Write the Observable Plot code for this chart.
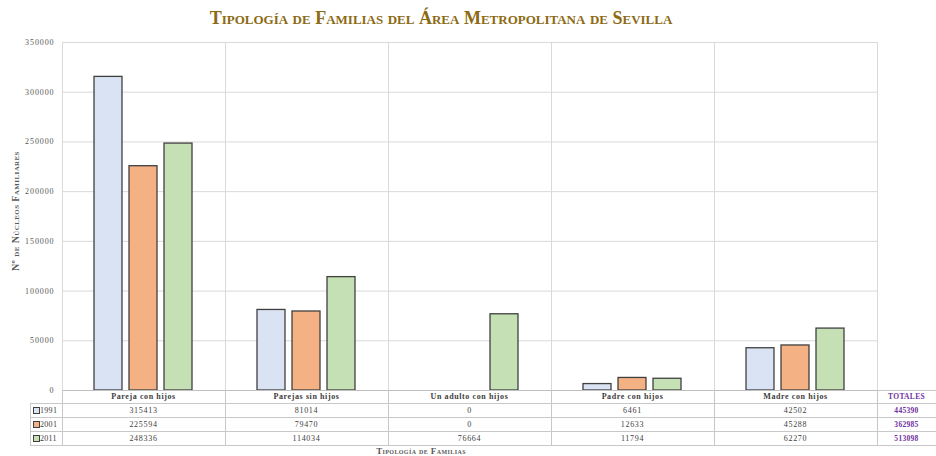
<!DOCTYPE html>
<html>
<head>
<meta charset="utf-8">
<script src="https://cdn.jsdelivr.net/npm/d3@7"></script>
<script src="https://cdn.jsdelivr.net/npm/@observablehq/plot@0.6"></script>
<style>
  html, body { margin: 0; padding: 0; background: #fff; }
  #wrap { position: relative; width: 936px; height: 456px; overflow: hidden; font-family: "Liberation Serif", "Times New Roman", serif; }
  #wrap svg { position: absolute; left: 0; top: 0; }
  #wrap svg g[aria-label="y-axis tick label"] text { letter-spacing: 0.9px; }
  .abs { position: absolute; white-space: nowrap; line-height: 1; }
  .title { left: 0; width: 882px; top: 9px; text-align: center; font-size: 18px; font-weight: bold; font-variant: small-caps; color: #8C6A14; letter-spacing: 0px; }
  .ylab { font-size: 10px; font-weight: bold; font-variant: small-caps; color: #595959; letter-spacing: 0.4px; transform-origin: 0 0; }
  .xlab { font-size: 9px; font-weight: bold; font-variant: small-caps; color: #595959; letter-spacing: 0.4px; }
  .hdr { font-size: 8px; font-weight: bold; color: #404040; letter-spacing: 0.6px; text-align: center; }
  .val { font-size: 8px; color: #404040; letter-spacing: 0.7px; text-align: center; }
  .tot { font-size: 7.5px; font-weight: bold; color: #7030A0; letter-spacing: 0.3px; text-align: center; }
  .ln { position: absolute; background: #c8c8c8; }
  .sw { position: absolute; width: 5px; height: 5px; border: 1px solid #404040; }
</style>
</head>
<body>
<div id="wrap"></div>
<script>
const categories = ["Pareja con hijos", "Parejas sin hijos", "Un adulto con hijos", "Padre con hijos", "Madre con hijos"];
const years = ["1991", "2001", "2011"];
const values1991 = [315413, 81014, 0, 6461, 42502];
const values2001 = [225594, 79470, 0, 12633, 45288];
const values2011 = [248336, 114034, 76664, 11794, 62270];
const totals = [445390, 362985, 513098];
const yearColors = ["#DAE3F3", "#F4B183", "#C5E0B4"];
const yTicks = [0, 50000, 100000, 150000, 200000, 250000, 300000, 350000];
const titleText = "Tipología de Familias del Área Metropolitana de Sevilla";
const yLabelText = "Nº de Núcleos Familiares";
const xLabelText = "Tipología de Familias";
const totalsLabel = "TOTALES";

const series = [values1991, values2001, values2011];
const data = [];
categories.forEach((c, i) => years.forEach((y, j) => data.push({cat: c, year: y, value: series[j][i]})));

const W = 936, H = 456, mL = 61, mR = 59, mT = 42, mB = 66;

const plot = Plot.plot({
  width: W, height: H,
  marginTop: mT, marginBottom: mB, marginLeft: mL, marginRight: mR,
  style: {fontFamily: "'Liberation Serif', serif", background: "transparent", overflow: "visible"},
  fx: {domain: categories, padding: 0, axis: null, label: null},
  x: {domain: years, paddingInner: 0.194, paddingOuter: 0.861, axis: null},
  y: {domain: [0, 350000], axis: null},
  color: {domain: years, range: yearColors},
  marks: [
    Plot.gridY(yTicks, {stroke: "#d9d9d9", strokeOpacity: 1}),
    Plot.frame({stroke: "#d9d9d9", strokeOpacity: 1}),
    Plot.barY(data.filter(d => d.value > 0), {fx: "cat", x: "year", y: "value", fill: "year", stroke: "#404040", strokeWidth: 1.3}),
    Plot.ruleY([0], {stroke: "#bfbfbf"}),
    Plot.axisY(yTicks, {tickSize: 0, tickPadding: 8, fontSize: 8, fill: "#595959", label: null, tickFormat: d => String(d)})
  ]
});

const wrap = document.getElementById("wrap");
wrap.appendChild(plot);

function addDiv(cls, text, css) {
  const d = document.createElement("div");
  d.className = cls;
  if (text != null) d.textContent = text;
  Object.assign(d.style, css);
  wrap.appendChild(d);
  return d;
}
function hline(x1, x2, y) { addDiv("ln", null, {left: x1 + "px", top: y + "px", width: (x2 - x1) + "px", height: "1px"}); }
function vline(x, y1, y2) { addDiv("ln", null, {left: x + "px", top: y1 + "px", width: "1px", height: (y2 - y1) + "px"}); }

// title & axis labels
addDiv("abs title", titleText, {});
const yl = addDiv("abs ylab", yLabelText, {});
const ylw = yl.getBoundingClientRect().width;
Object.assign(yl.style, {left: "11px", top: (211 + ylw / 2) + "px", transform: "rotate(-90deg)"});

// data table aligned with the fx scale
const fx = plot.scale("fx");
const bw = fx.bandwidth;
const colX = categories.map(c => fx.apply(c));
const xRight = colX[colX.length - 1] + bw;
const rowTops = [390, 403, 417, 431, 445];
const legL = 30;

hline(xRight, W, 390);
rowTops.slice(1).forEach(y => hline(legL, W, y));
vline(legL, 403, 446);
colX.forEach(x => vline(Math.round(x), 390, 446));
vline(Math.round(xRight), 390, 446);

function cellText(cls, text, x, w, yTop, yBot) {
  const d = addDiv("abs " + cls, text, {left: x + "px", width: w + "px"});
  const h = d.getBoundingClientRect().height;
  d.style.top = ((yTop + yBot) / 2 - h / 2 + 0.5) + "px";
}

categories.forEach((c, i) => cellText("hdr", c, colX[i], bw, rowTops[0], rowTops[1]));
cellText("tot", totalsLabel, xRight, W - xRight, rowTops[0], rowTops[1]);
years.forEach((y, j) => {
  const t = rowTops[j + 1], b = rowTops[j + 2];
  categories.forEach((c, i) => cellText("val", String(series[j][i]), colX[i], bw, t, b));
  cellText("tot", String(totals[j]), xRight, W - xRight, t, b);
  addDiv("sw", null, {left: "33px", top: ((t + b) / 2 - 3) + "px", background: yearColors[j]});
  const yd = addDiv("abs val", y, {left: "40px", textAlign: "left", letterSpacing: "0.3px"});
  const h = yd.getBoundingClientRect().height;
  yd.style.top = ((t + b) / 2 - h / 2 + 0.5) + "px";
});

const xl = addDiv("abs xlab", xLabelText, {});
const xlw = xl.getBoundingClientRect().width;
Object.assign(xl.style, {left: (421 - xlw / 2) + "px", top: "446.5px"});
</script>
</body>
</html>
